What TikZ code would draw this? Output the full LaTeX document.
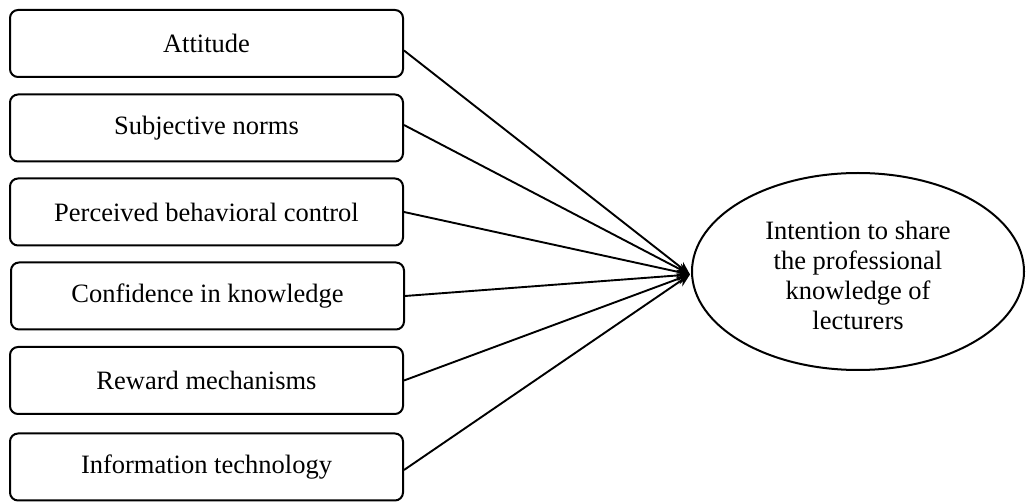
\documentclass[tikz,border=0pt]{standalone}
\usepackage{fontspec}
\setmainfont{Liberation Serif}
\usetikzlibrary{shapes.geometric,arrows.meta}
\begin{document}
\begin{tikzpicture}[x=1pt,y=-1pt,
  factor/.style={draw,line width=2pt,rounded corners=8pt,minimum width=393pt,minimum height=67pt,inner sep=0pt,font=\fontsize{26.5}{30}\selectfont},
  outcome/.style={draw,ellipse,line width=2pt,minimum width=332pt,minimum height=197pt,inner sep=0pt,align=center,font=\fontsize{26.5}{30}\selectfont},
  link/.style={line width=1.9pt,-{Stealth[length=13pt,width=11pt]}}]
\useasboundingbox (0,0) rectangle (1026,502);
\node[factor] (a) at (206.5,43.5) {Attitude};
\node[factor] (b) at (206.5,128) {Subjective norms};
\node[factor] (c) at (206.5,212) {Perceived behavioral control};
\node[factor] (d) at (207.5,296) {Confidence in knowledge};
\node[factor] (e) at (206.5,380.5) {Reward mechanisms};
\node[factor] (f) at (206.5,467) {Information technology};
\node[outcome] (o) at (858,271.5) {\rule{0pt}{26pt}Intention to share\\the professional\\knowledge of\\lecturers};
\coordinate (t) at ([xshift=-1pt,yshift=-3pt]o.west);
\draw[link] ([yshift=-7pt]a.east) -- (t);
\draw[link] ([yshift=3pt]b.east) -- (t);
\draw[link] (c.east) -- (t);
\draw[link] (d.east) -- (t);
\draw[link] (e.east) -- (t);
\draw[link] ([yshift=-3pt]f.east) -- (t);
\end{tikzpicture}
\end{document}
